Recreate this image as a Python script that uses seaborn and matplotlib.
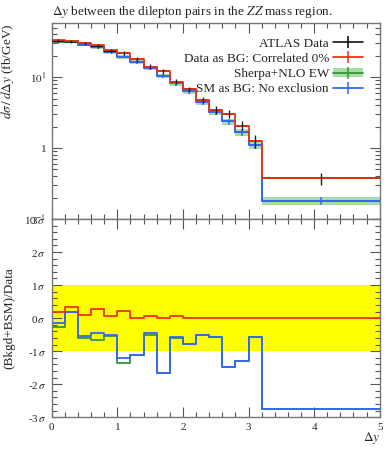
import matplotlib
matplotlib.use('Agg')

import numpy as np
import pandas as pd
import matplotlib.pyplot as plt
import seaborn as sns
from matplotlib.lines import Line2D
from matplotlib.patches import Patch
from matplotlib.ticker import MultipleLocator, LogLocator, NullFormatter

# bin edges in delta y
edges = [0.0, 0.2, 0.4, 0.6, 0.8, 1.0, 1.2, 1.4, 1.6, 1.8, 2.0,
         2.2, 2.4, 2.6, 2.8, 3.0, 3.2, 5.0]

# ATLAS data (fb/GeV) and its uncertainty
data = [32.5, 31.8, 30.1, 27.6, 23.7, 21.7, 17.9, 14.0, 12.2, 8.6,
        6.8, 4.8, 3.47, 3.04, 2.07, 1.27, 0.374]
data_err = [1.8, 1.7, 1.7, 1.6, 1.5, 1.4, 1.3, 1.1, 0.95, 0.7,
            0.55, 0.45, 0.4, 0.42, 0.3, 0.28, 0.07]

# predictions
data_bg = [33.0, 32.6, 30.3, 28.2, 23.8, 22.1, 17.9, 14.1, 12.2, 8.66,
           6.8, 4.8, 3.47, 3.04, 2.07, 1.27, 0.374]
sm_bg = [32.1, 32.3, 28.8, 26.6, 22.75, 19.5, 16.2, 13.45, 10.5, 8.17,
         6.34, 4.5, 3.25, 2.37, 1.66, 1.1, 0.182]
sherpa = [31.8, 32.3, 28.66, 26.2, 22.7, 19.2, 16.2, 13.4, 10.5, 8.15,
          6.34, 4.5, 3.25, 2.37, 1.66, 1.1, 0.182]
sherpa_err = [1.6, 1.6, 1.5, 1.4, 1.2, 1.1, 1.0, 0.9, 0.75, 0.6,
              0.5, 0.4, 0.3, 0.23, 0.18, 0.13, 0.025]

# (Bkgd+BSM)/Data pulls in sigma
pull_data_bg = [0.18, 0.34, 0.09, 0.27, 0.05, 0.21, 0.0, 0.07, 0.0, 0.08,
                0.0, 0.0, 0.0, 0.0, 0.0, 0.0, 0.0]
pull_sm_bg = [-0.14, 0.2, -0.54, -0.46, -0.5, -1.2, -1.11, -0.46, -1.67, -0.57,
              -0.77, -0.5, -0.56, -1.49, -1.31, -0.56, -2.74]
pull_sherpa = [-0.26, 0.2, -0.6, -0.65, -0.53, -1.37, -1.11, -0.5, -1.67, -0.6,
               -0.77, -0.5, -0.56, -1.49, -1.31, -0.56, -2.74]

RED = '#EE3311'
BLUE = '#3366FF'
GREEN = '#339933'
LGREEN = '#a8dba8'

sns.set_theme(style='ticks')
plt.rcParams['font.family'] = ['Liberation Serif', 'DejaVu Serif']
plt.rcParams['mathtext.fontset'] = 'stix'
plt.rcParams['font.size'] = 9

centers = [(a + b) / 2 for a, b in zip(edges[:-1], edges[1:])]
halfw = [(b - a) / 2 for a, b in zip(edges[:-1], edges[1:])]


def steps(name, vals):
    return pd.DataFrame({'x': edges, 'y': list(vals) + [vals[-1]], 'series': name})


fig = plt.figure(figsize=(3.92, 4.5), dpi=100)
ax1 = fig.add_axes([0.132, 0.5133, 0.8367, 0.4356])
ax2 = fig.add_axes([0.132, 0.0727, 0.8367, 0.4406])

# ---- main panel
lo = [v - e for v, e in zip(sherpa, sherpa_err)]
hi = [v + e for v, e in zip(sherpa, sherpa_err)]
ax1.fill_between(edges, lo + [lo[-1]], hi + [hi[-1]], step='post',
                 color=LGREEN, lw=0, zorder=1)

top = pd.concat([steps('Sherpa+NLO EW', sherpa),
                 steps('SM as BG: No exclusion', sm_bg)])
sns.lineplot(data=top, x='x', y='y', hue='series', ax=ax1,
             palette={'Sherpa+NLO EW': GREEN, 'SM as BG: No exclusion': BLUE},
             drawstyle='steps-post', estimator=None, sort=False, lw=1.3,
             legend=False, zorder=2)
ax1.errorbar(centers, sm_bg, yerr=sherpa_err, fmt='none', ecolor=BLUE,
             elinewidth=1.1, zorder=2)
ax1.errorbar(centers, data, xerr=halfw, fmt='none', ecolor='black',
             elinewidth=1.1, zorder=3)
sns.lineplot(data=steps('Data as BG', data_bg), x='x', y='y', ax=ax1,
             color=RED, drawstyle='steps-post', estimator=None, sort=False,
             lw=1.3, zorder=4)
ax1.errorbar(centers, data, yerr=data_err, fmt='none', ecolor='#222222',
             elinewidth=1.0, zorder=5)

ax1.set_yscale('log')
ax1.set_xlim(0, 5)
ax1.set_ylim(0.1, 58)
ax1.set_yticks([0.1, 1, 10], labels=['$10^{-1}$', '1', '$10^{1}$'])
ax1.yaxis.set_minor_locator(LogLocator(base=10, subs=np.arange(2, 10)))
ax1.yaxis.set_minor_formatter(NullFormatter())
ax1.set_xticklabels([])
ax1.set_xlabel('')
ax1.set_ylabel(r'$d\sigma\,/\,d\Delta y$ (fb/GeV)', loc='top', fontsize=9.5)

handles = [
    Line2D([], [], color='black', marker='|', markersize=9, mew=1.1, lw=1.1),
    Line2D([], [], color=RED, marker='|', markersize=9, mew=1.1, lw=1.3),
    (Patch(facecolor=LGREEN, lw=0),
     Line2D([], [], color=GREEN, marker='|', markersize=9, mew=1.1, lw=1.3)),
    Line2D([], [], color=BLUE, marker='|', markersize=9, mew=1.1, lw=1.3),
]
labels = ['ATLAS Data', 'Data as BG: Correlated 0%', 'Sherpa+NLO EW',
          'SM as BG: No exclusion']
ax1.legend(handles, labels, loc='upper right', bbox_to_anchor=(0.95, 0.925),
           frameon=False, markerfirst=False, borderpad=0, borderaxespad=0,
           handlelength=2.3, handletextpad=0.3, labelspacing=0.22,
           fontsize=9.5)

# ---- ratio panel
ax2.axhspan(-1, 1, color='#FFFF00', lw=0, zorder=0)
bot = pd.concat([steps('sherpa', pull_sherpa), steps('sm', pull_sm_bg),
                 steps('data', pull_data_bg)])
sns.lineplot(data=bot, x='x', y='y', hue='series', ax=ax2,
             palette={'sherpa': GREEN, 'sm': BLUE, 'data': RED},
             drawstyle='steps-post', estimator=None, sort=False, lw=1.3,
             legend=False)
ax2.set_xlim(0, 5)
ax2.set_ylim(-3, 3)
ax2.set_yticks([-3, -2, -1, 0, 1, 2, 3],
               labels=[f'{i}' + r'$\,\sigma$' for i in [-3, -2, -1, 0, 1, 2, 3]])
ax2.yaxis.set_minor_locator(MultipleLocator(0.2))
ax2.set_xticks([0, 1, 2, 3, 4, 5])
ax2.set_ylabel('(Bkgd+BSM)/Data', fontsize=9.5)
ax2.set_xlabel(r'$\Delta y$', loc='right', fontsize=9.5)
ax2.xaxis.set_label_coords(1.0, -0.065)

for ax in (ax1, ax2):
    ax.xaxis.set_minor_locator(MultipleLocator(0.2))
    ax.tick_params(which='both', direction='in', top=True, right=True,
                   labelsize=8, color='#555555', pad=4)
    ax.tick_params(which='major', length=7, width=0.8)
    ax.tick_params(which='minor', length=3.5, width=0.8)
    for s in ax.spines.values():
        s.set_color('#777777')
        s.set_linewidth(1.0)
ax1.yaxis.set_label_coords(-0.11, 1.0)
ax2.yaxis.set_label_coords(-0.11, 0.5)

fig.text(0.133, 0.967, r'$\Delta y$ between the dilepton pairs in the $ZZ$ mass region.',
         fontsize=9.5, ha='left', va='baseline')

fig.savefig('out.png', dpi=100)
